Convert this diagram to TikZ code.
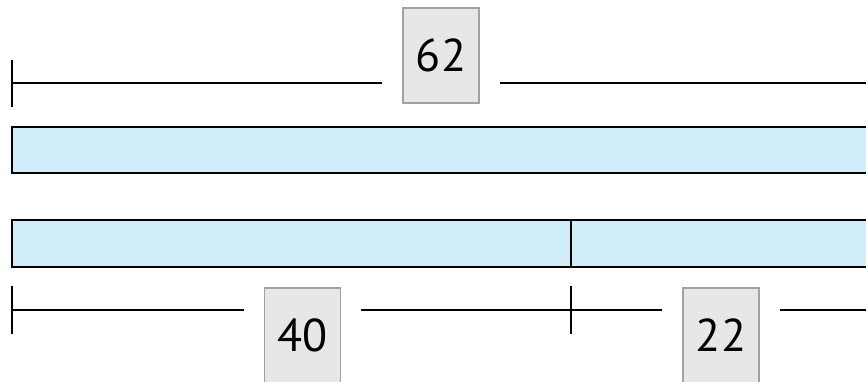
\documentclass[tikz,border=0pt]{standalone}
\usepackage{fontspec}
\setmainfont{PT Sans}
\usetikzlibrary{positioning}

\definecolor{balken}{HTML}{D2EDFA}
\definecolor{kasten}{HTML}{E6E7E9}
\definecolor{rand}{HTML}{A2A2A2}

\begin{document}
\begin{tikzpicture}[%show background rectangle,
        x=1pt, y=-1pt,
        font=\fontsize{46}{50}\selectfont,
        bar/.style={draw, line width=2pt, fill=balken},
        zahl/.style={draw=rand, line width=1.5pt, fill=kasten,
            minimum width=76pt, minimum height=95pt, inner sep=0pt},
        linie/.style={line width=2pt},
        luecke/.style={linie, shorten >=20pt},
        ]
            \useasboundingbox (0,0) rectangle (866,381);
            \clip (0,0) rectangle (866,381);

            % Balken
            \draw[bar] (12,127) rectangle (890,173);
            \draw[bar] (12,220) rectangle (571,267);
            \draw[bar] (571,220) rectangle (890,267);

            % Zahlen
            \node[zahl] (Z62) at (441,55.5) {62};
            \node[zahl] (Z40) at (302.5,335.5) {40};
            \node[zahl] (Z22) at (721,335.5) {22};

            % Klammerpunkte
            \coordinate (O-L) at (12,83);
            \coordinate (O-R) at (880,83);
            \coordinate (U-L) at (12,310);
            \coordinate (U-M) at (571,310);
            \coordinate (U-R) at (880,310);

            % Klammer oben
            \draw[luecke] (O-L) -- (O-L -| Z62.west);
            \draw[luecke] (O-R) -- (O-R -| Z62.east);
            \draw[linie] ([yshift=-23.5pt]O-L) -- ([yshift=23.5pt]O-L);

            % Klammer unten
            \draw[luecke] (U-L) -- (U-L -| Z40.west);
            \draw[luecke] (U-M) -- (U-M -| Z40.east);
            \draw[luecke] (U-M) -- (U-M -| Z22.west);
            \draw[luecke] (U-R) -- (U-R -| Z22.east);
            \draw[linie] ([yshift=-23.5pt]U-L) -- ([yshift=24pt]U-L)
                         ([yshift=-23.5pt]U-M) -- ([yshift=24pt]U-M);

        \end{tikzpicture}
\end{document}
